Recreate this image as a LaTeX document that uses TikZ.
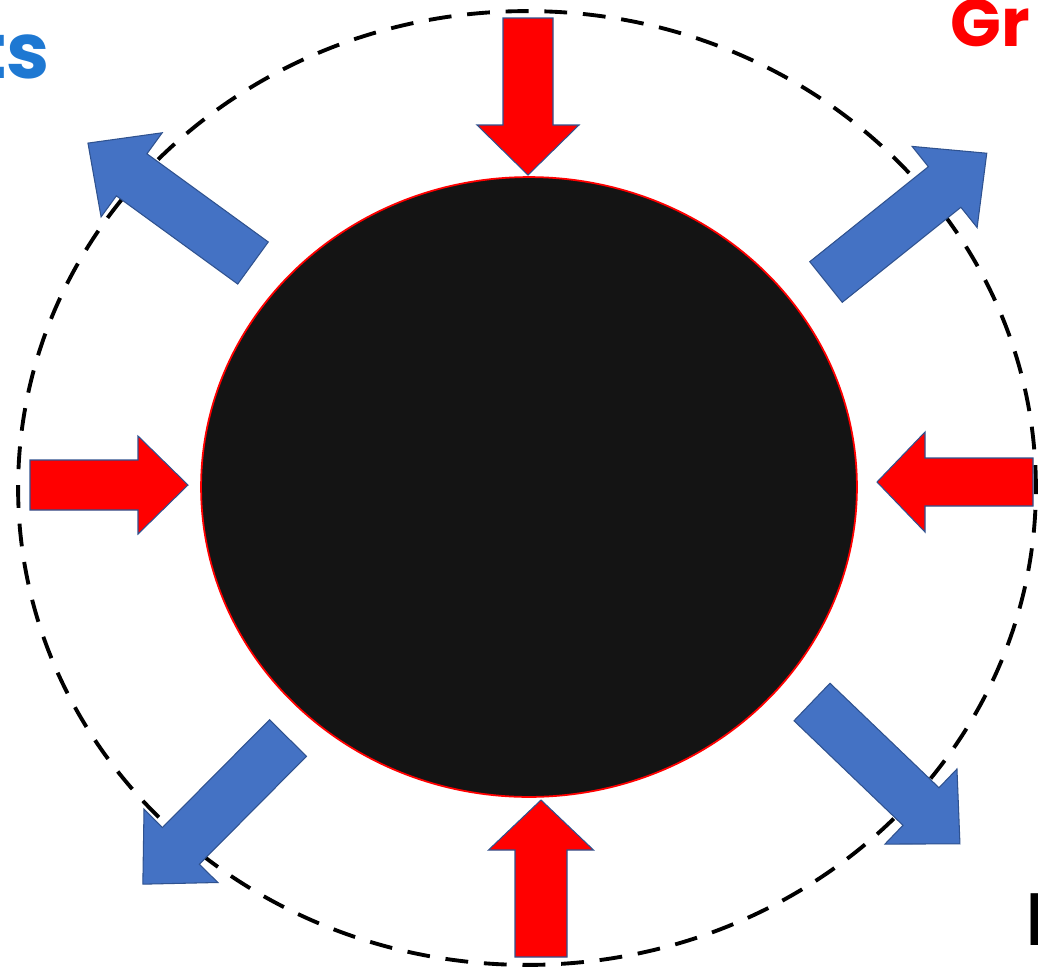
\documentclass[tikz,border=0pt]{standalone}
\usepackage{fontspec}
\setmainfont{Poppins}
\usepackage{tikz}
\usetikzlibrary{shapes.geometric}

\definecolor{pushred}{RGB}{255,0,0}
\definecolor{pushblue}{RGB}{68,114,196}
\definecolor{edgeblue}{RGB}{47,82,143}
\definecolor{tagblue}{RGB}{30,120,210}
\definecolor{coreblack}{RGB}{20,20,20}

\begin{document}
\begin{tikzpicture}[
  x=0.02cm,
  y=-0.02cm,
  every node/.style={inner sep=0pt},
  inward/.style={fill=pushred,draw=edgeblue,line width=0.6pt},
  outward/.style={fill=pushblue,draw=edgeblue,line width=0.6pt},
  reach/.style={
    ellipse,
    draw=black,
    line width=2.2pt,
    dash pattern=on 13pt off 9pt
  },
  core/.style={ellipse,fill=coreblack,draw=red,line width=1pt},
  tag/.style={font=\bfseries\fontsize{#1}{#1}\selectfont},
  pics/fatarrow/.style args={#1/#2/#3/#4}{code={
    \path[pic actions]
      (0,-#2/2) -- (#1-#4,-#2/2) -- (#1-#4,-#3/2) -- (#1,0)
      -- (#1-#4,#3/2) -- (#1-#4,#2/2) -- (0,#2/2) -- cycle;
  }}
]

\useasboundingbox (0,0) rectangle (1038,975);
\clip (0,0) rectangle (1038,975);

% Dashed outer boundary and the dark core.
\node[reach,minimum width=20.36cm,minimum height=19.08cm] (boundary) at (527,488) {};
\node[core,minimum width=13.12cm,minimum height=12.4cm] (core) at (529,487) {};

% Red arrows pushing in.
\pic[inward,rotate=-90] at (528,18) {fatarrow=157/50/102/50};
\pic[inward,rotate=90] at (541,957) {fatarrow=157/52/105/50};
\pic[inward,rotate=0] at (30,485) {fatarrow=158/50/98/50};
\pic[inward,rotate=180] at (1033,482) {fatarrow=156/48/100/48};

% Blue arrows pointing out.
\pic[outward,rotate=144] at (253,263) {fatarrow=204/52/104/54};
\pic[outward,rotate=38.7] at (826,282) {fatarrow=206/52/104/54};
\pic[outward,rotate=225.2] at (288,738) {fatarrow=206/52/104/54};
\pic[outward,rotate=-43.8] at (812,702) {fatarrow=205/52/104/54};

% Cut-off labels at the edges.
\node[tag=44,text=tagblue,anchor=base east] (lefttag) at (50,78) {ts};
\node[tag=38,text=pushred,anchor=base west] (righttag) at (950,46) {Gr};
\node[tag=42,text=black,anchor=base west] (bottomtag) at (1026,945) {I};

\end{tikzpicture}
\end{document}
